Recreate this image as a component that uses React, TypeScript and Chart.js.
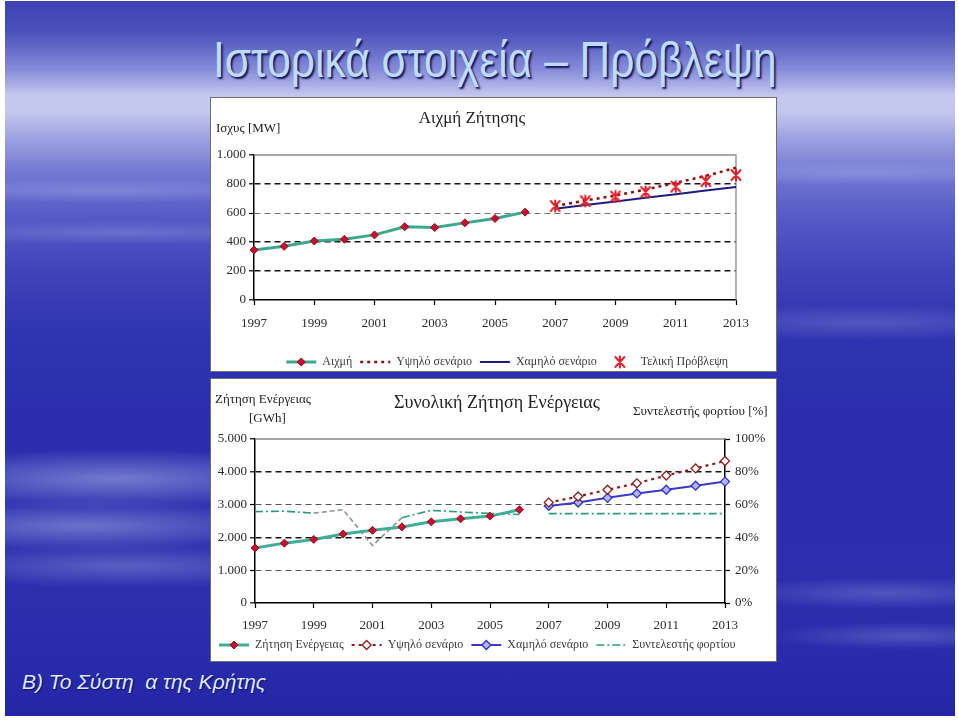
import React, { useEffect, useRef } from "react";
import { Chart, registerables } from "chart.js";

Chart.register(...registerables);

// ---------------- data ----------------
const YEARS = ["1997", "1998", "1999", "2000", "2001", "2002", "2003", "2004", "2005", "2006", "2007", "2008", "2009", "2010", "2011", "2012", "2013"];

// Peak demand [MW]
const PEAK_ACTUAL = [345, 370, 407, 419, 449, 505, 500, 532, 562, 606, null, null, null, null, null, null, null];
const PEAK_HIGH = [null, null, null, null, null, null, null, null, null, null, 648, 686, 720, 762, 808, 856, 912];
const PEAK_LOW = [null, null, null, null, null, null, null, null, null, null, 630, 655, 680, 705, 730, 755, 780];
const PEAK_FINAL = [null, null, null, null, null, null, null, null, null, null, 648, 682, 714, 745, 782, 820, 862];

// Total energy demand [GWh]
const ENERGY_ACTUAL = [1680, 1825, 1938, 2103, 2216, 2320, 2474, 2567, 2649, 2845, null, null, null, null, null, null, null];
const ENERGY_HIGH = [null, null, null, null, null, null, null, null, null, null, 3062, 3247, 3454, 3649, 3887, 4103, 4330];
const ENERGY_LOW = [null, null, null, null, null, null, null, null, null, null, 2959, 3062, 3206, 3340, 3454, 3577, 3701];
// Load factor [%]
const LOAD_FACTOR = [55.7, 56.0, 54.8, 56.9, 35.0, 52.0, 56.5, 55.5, 54.6, 54.0, 54.5, 54.5, 54.5, 54.5, 54.5, 54.5, 54.5];

const PEAK_LABELS = ["Αιχμή", "Υψηλό σενάριο", "Χαμηλό σενάριο", "Τελική Πρόβλεψη"];
const ENERGY_LABELS = ["Ζήτηση Ενέργειας", "Υψηλό σενάριο", "Χαμηλό σενάριο", "Συντελεστής φορτίου"];

// ---------------- helpers ----------------
const SERIF = "'Liberation Serif', 'Times New Roman', serif";
const fmt = (v: number) => {
  const s = String(Math.round(v));
  return s.length > 3 ? s.slice(0, -3) + "." + s.slice(-3) : s;
};
const TRANSPARENT = "rgba(0,0,0,0)";

function makeStar(): HTMLCanvasElement {
  const c = document.createElement("canvas");
  c.width = 14;
  c.height = 14;
  const g = c.getContext("2d")!;
  g.strokeStyle = "#e3212b";
  g.lineWidth = 2;
  g.lineCap = "round";
  g.beginPath();
  g.moveTo(2.5, 2); g.lineTo(11.5, 12);
  g.moveTo(11.5, 2); g.lineTo(2.5, 12);
  g.moveTo(7, 1.5); g.lineTo(7, 12.5);
  g.stroke();
  return c;
}

const framePlugin = {
  id: "frame",
  beforeDatasetsDraw(chart: any, _args: any, opts: any) {
    const { ctx, chartArea } = chart;
    ctx.save();
    ctx.strokeStyle = "#8a8a8a";
    ctx.lineWidth = 1.3;
    ctx.beginPath();
    ctx.moveTo(chartArea.left, chartArea.top);
    ctx.lineTo(chartArea.right, chartArea.top);
    if (opts && opts.right) ctx.lineTo(chartArea.right, chartArea.bottom);
    ctx.stroke();
    ctx.restore();
  },
};

const legendSamplesPlugin = {
  id: "legendSamples",
  afterDraw(chart: any) {
    const lg = chart.legend;
    if (!lg || !lg.legendHitBoxes) return;
    const ctx = chart.ctx;
    const bw = lg.options.labels.boxWidth;
    lg.legendItems.forEach((item: any, i: number) => {
      const hb = lg.legendHitBoxes[i];
      const ds = chart.data.datasets[item.datasetIndex];
      const cy = hb.top + hb.height / 2;
      const x0 = hb.left;
      const x1 = hb.left + bw;
      const cx = (x0 + x1) / 2;
      ctx.save();
      if (ds.showLine !== false) {
        ctx.strokeStyle = ds.borderColor;
        ctx.lineWidth = ds.borderWidth;
        ctx.setLineDash(ds.borderDash || []);
        ctx.beginPath();
        ctx.moveTo(x0, cy);
        ctx.lineTo(x1, cy);
        ctx.stroke();
      }
      ctx.setLineDash([]);
      const ps = ds.pointStyle;
      if (ps && typeof ps !== "string") {
        ctx.drawImage(ps, cx - ps.width / 2, cy - ps.height / 2);
      } else if (ps === "rectRot" && ds.pointRadius > 0) {
        const r = ds.pointRadius;
        ctx.beginPath();
        ctx.moveTo(cx, cy - r);
        ctx.lineTo(cx + r, cy);
        ctx.lineTo(cx, cy + r);
        ctx.lineTo(cx - r, cy);
        ctx.closePath();
        ctx.fillStyle = ds.pointBackgroundColor;
        ctx.fill();
        ctx.lineWidth = ds.pointBorderWidth || 1;
        ctx.strokeStyle = ds.pointBorderColor;
        ctx.stroke();
      }
      ctx.restore();
    });
  },
};

const legendLabels = (align: string) => ({
  position: "bottom",
  align,
  labels: {
    boxWidth: 30,
    padding: 8,
    color: "#3a3a3a",
    font: { family: SERIF, size: 12 },
    sort: (a: any, b: any) => a.datasetIndex - b.datasetIndex,
    generateLabels: (chart: any) =>
      (Chart.defaults.plugins.legend.labels.generateLabels as any)(chart).map((l: any) => ({
        ...l,
        fillStyle: TRANSPARENT,
        strokeStyle: TRANSPARENT,
        lineWidth: 0,
      })),
  },
});

const tickFont = { family: SERIF, size: 13 };

function xScale(height: number, padding: number) {
  return {
    grid: {
      drawOnChartArea: false,
      drawTicks: true,
      tickLength: 5,
      tickWidth: 1.2,
      tickColor: (c: any) => (c.index % 2 === 0 ? "#000" : TRANSPARENT),
    },
    border: { color: "#000", width: 1.5 },
    ticks: {
      autoSkip: false,
      maxRotation: 0,
      padding,
      color: "#2a2a2a",
      font: tickFont,
      callback: (_v: any, i: number) => (i % 2 === 0 ? YEARS[i] : ""),
    },
    afterFit: (s: any) => {
      s.height = height;
    },
  };
}

function peakConfig(): any {
  const star = makeStar();
  return {
    type: "line",
    data: {
      labels: YEARS,
      datasets: [
        {
          label: PEAK_LABELS[0],
          data: PEAK_ACTUAL,
          borderColor: "#3aa98f",
          borderWidth: 3,
          pointStyle: "rectRot",
          pointRadius: 4,
          pointBackgroundColor: "#c8102e",
          pointBorderColor: "#9a0a1e",
          pointBorderWidth: 1,
          order: 2,
        },
        {
          label: PEAK_LABELS[1],
          data: PEAK_HIGH,
          borderColor: "#8a1010",
          borderWidth: 2.5,
          borderDash: [3, 4],
          pointRadius: 0,
          order: 3,
        },
        {
          label: PEAK_LABELS[2],
          data: PEAK_LOW,
          borderColor: "#1d1d80",
          borderWidth: 2,
          pointRadius: 0,
          order: 4,
        },
        {
          label: PEAK_LABELS[3],
          data: PEAK_FINAL,
          showLine: false,
          pointStyle: star,
          pointRadius: 7,
          borderColor: "#e3212b",
          order: 1,
        },
      ],
    },
    options: {
      responsive: false,
      maintainAspectRatio: false,
      animation: false,
      layout: { padding: { top: 57, right: 40, left: 0, bottom: 0 } },
      plugins: {
        legend: legendLabels("end"),
        tooltip: { enabled: false },
        frame: { right: true },
      },
      scales: {
        x: xScale(48, 11),
        y: {
          min: 0,
          max: 1000,
          ticks: { stepSize: 200, padding: 3, color: "#2a2a2a", font: tickFont, callback: (v: any) => fmt(v) },
          grid: {
            color: (c: any) => {
              const v = c.tick && c.tick.value;
              if (v === 0 || v === 1000) return TRANSPARENT;
              if (v === 600) return "#707070";
              return "#151515";
            },
            lineWidth: (c: any) => (c.tick && c.tick.value === 600 ? 1 : 1.6),
            tickLength: 5,
            tickWidth: 1.2,
            tickColor: "#000",
          },
          border: { color: "#000", width: 1.5, dash: [6, 4] },
          afterFit: (s: any) => {
            s.width = 43;
          },
        },
      },
    },
    plugins: [framePlugin, legendSamplesPlugin],
  };
}

function energyConfig(): any {
  return {
    type: "line",
    data: {
      labels: YEARS,
      datasets: [
        {
          label: ENERGY_LABELS[0],
          data: ENERGY_ACTUAL,
          borderColor: "#3fae98",
          borderWidth: 3,
          pointStyle: "rectRot",
          pointRadius: 4,
          pointBackgroundColor: "#c8102e",
          pointBorderColor: "#9a0a1e",
          pointBorderWidth: 1,
          order: 1,
        },
        {
          label: ENERGY_LABELS[1],
          data: ENERGY_HIGH,
          borderColor: "#8a1a1a",
          borderWidth: 2.2,
          borderDash: [3, 4],
          pointStyle: "rectRot",
          pointRadius: 4.5,
          pointBackgroundColor: "#ffffff",
          pointBorderColor: "#8a2020",
          pointBorderWidth: 1.3,
          order: 2,
        },
        {
          label: ENERGY_LABELS[2],
          data: ENERGY_LOW,
          borderColor: "#3a3ac4",
          borderWidth: 2,
          pointStyle: "rectRot",
          pointRadius: 4.5,
          pointBackgroundColor: "#b4b4f2",
          pointBorderColor: "#3030c0",
          pointBorderWidth: 1.3,
          order: 3,
        },
        {
          label: ENERGY_LABELS[3],
          data: LOAD_FACTOR,
          yAxisID: "y1",
          borderColor: "#2a9a84",
          borderWidth: 1.6,
          borderDash: [8, 3, 2, 3],
          pointRadius: 0,
          order: 4,
          segment: {
            borderColor: (c: any) => {
              if (c.p0DataIndex === 9) return TRANSPARENT;
              if (c.p0DataIndex >= 2 && c.p0DataIndex <= 4) return "#8a9696";
              return undefined;
            },
            borderDash: (c: any) => (c.p0DataIndex >= 2 && c.p0DataIndex <= 4 ? [5, 3] : undefined),
          },
        },
      ],
    },
    options: {
      responsive: false,
      maintainAspectRatio: false,
      animation: false,
      layout: { padding: { top: 60, right: 0, left: 0, bottom: 0 } },
      plugins: {
        legend: legendLabels("start"),
        tooltip: { enabled: false },
        frame: { right: false },
      },
      scales: {
        x: xScale(28, 10),
        y: {
          position: "left",
          min: 0,
          max: 5000,
          ticks: { stepSize: 1000, padding: 3, color: "#2a2a2a", font: tickFont, callback: (v: any) => fmt(v) },
          grid: {
            color: (c: any) => {
              const v = c.tick && c.tick.value;
              if (v === 0 || v === 5000) return TRANSPARENT;
              if (v === 1000 || v === 3000) return "#555555";
              return "#151515";
            },
            lineWidth: (c: any) => (c.tick && (c.tick.value === 1000 || c.tick.value === 3000) ? 1 : 1.6),
            tickLength: 5,
            tickWidth: 1.2,
            tickColor: "#000",
          },
          border: { color: "#000", width: 1.5, dash: [6, 4] },
          afterFit: (s: any) => {
            s.width = 44;
          },
        },
        y1: {
          position: "right",
          min: 0,
          max: 100,
          ticks: { stepSize: 20, padding: 5, color: "#2a2a2a", font: tickFont, callback: (v: any) => v + "%" },
          grid: { drawOnChartArea: false, tickLength: 5, tickWidth: 1.2, tickColor: "#000" },
          border: { color: "#000", width: 1.5 },
          afterFit: (s: any) => {
            s.width = 51;
          },
        },
      },
    },
    plugins: [framePlugin, legendSamplesPlugin],
  };
}

function ChartCanvas({ makeConfig, width, height }: { makeConfig: () => any; width: number; height: number }) {
  const ref = useRef<HTMLCanvasElement | null>(null);
  useEffect(() => {
    if (!ref.current) return;
    const chart = new Chart(ref.current, makeConfig());
    return () => chart.destroy();
  }, []);
  return (
    <canvas
      ref={ref}
      width={width}
      height={height}
      style={{ position: "absolute", left: 0, top: 0, width, height }}
    />
  );
}

const BG = [
  "radial-gradient(ellipse 240px 30px at 110px 478px, rgba(190,196,240,0.5), rgba(190,196,240,0))",
  "radial-gradient(ellipse 230px 26px at 80px 525px, rgba(190,196,240,0.45), rgba(190,196,240,0))",
  "radial-gradient(ellipse 220px 22px at 120px 565px, rgba(180,186,236,0.35), rgba(180,186,236,0))",
  "radial-gradient(ellipse 200px 18px at 860px 322px, rgba(180,186,236,0.25), rgba(180,186,236,0))",
  "radial-gradient(ellipse 160px 16px at 880px 592px, rgba(180,186,236,0.28), rgba(180,186,236,0))",
  "radial-gradient(ellipse 140px 14px at 900px 635px, rgba(180,186,236,0.28), rgba(180,186,236,0))",
  "radial-gradient(ellipse 240px 12px at 100px 190px, rgba(200,205,245,0.25), rgba(200,205,245,0))",
  "radial-gradient(ellipse 240px 12px at 120px 232px, rgba(200,205,245,0.22), rgba(200,205,245,0))",
  "radial-gradient(ellipse 220px 12px at 860px 172px, rgba(200,205,245,0.25), rgba(200,205,245,0))",
  "linear-gradient(to bottom, #3c42b4 0px, #4a50ba 30px, #858ad8 68px, #c6c8ee 95px, #c3c6ee 112px, #a0a4e2 135px, #7479d3 170px, #565bc8 215px, #3f44b9 270px, #2f34b1 330px, #2a2eae 420px, #2b2fae 600px, #2426a6 715px)",
].join(", ");

export default function App() {
  return (
    <div style={{ position: "absolute", left: 0, top: 0, width: 959, height: 721, background: "#ffffff", overflow: "hidden" }}>
      <div style={{ position: "absolute", left: 5, top: 1, width: 950, height: 715, background: BG }} />

      <div
        style={{
          position: "absolute",
          left: 213,
          top: 35,
          fontFamily: "'Liberation Sans', Arial, sans-serif",
          fontSize: 50,
          lineHeight: "50px",
          color: "#bcdcf8",
          whiteSpace: "nowrap",
          transform: "scaleX(0.85)",
          transformOrigin: "0 0",
          textShadow: "2px 2px 2px #14145a",
        }}
      >
        Ιστορικά στοιχεία – Πρόβλεψη
      </div>

      <div
        style={{
          position: "absolute",
          left: 22,
          top: 671,
          fontFamily: "'Liberation Sans', Arial, sans-serif",
          fontStyle: "italic",
          fontSize: 21,
          lineHeight: "21px",
          color: "#dfeaff",
          whiteSpace: "pre",
          textShadow: "1px 1px 1px #10106a",
        }}
      >
        {"Β) Το Σύστη  α της Κρήτης"}
      </div>

      {/* Peak demand chart */}
      <div
        style={{
          position: "absolute",
          left: 210,
          top: 97,
          width: 567,
          height: 275,
          boxSizing: "border-box",
          border: "1px solid #6e6e6e",
          background: "#ffffff",
        }}
      >
        <ChartCanvas makeConfig={peakConfig} width={565} height={280} />
        <div style={{ position: "absolute", left: 261, top: 10, transform: "translateX(-50%)", fontFamily: SERIF, fontSize: 17, lineHeight: "20px", color: "#222", whiteSpace: "nowrap" }}>
          Αιχμή Ζήτησης
        </div>
        <div style={{ position: "absolute", left: 5, top: 22, fontFamily: SERIF, fontSize: 13, lineHeight: "16px", color: "#222", whiteSpace: "nowrap" }}>
          Ισχυς [MW]
        </div>
      </div>

      {/* Energy demand chart */}
      <div
        style={{
          position: "absolute",
          left: 210,
          top: 378,
          width: 567,
          height: 284,
          boxSizing: "border-box",
          border: "1px solid #6e6e6e",
          background: "#ffffff",
          overflow: "hidden",
        }}
      >
        <ChartCanvas makeConfig={energyConfig} width={565} height={282} />
        <div style={{ position: "absolute", left: 286, top: 13, transform: "translateX(-50%)", fontFamily: SERIF, fontSize: 18, lineHeight: "20px", color: "#222", whiteSpace: "nowrap" }}>
          Συνολική Ζήτηση Ενέργειας
        </div>
        <div style={{ position: "absolute", left: 4, top: 12, fontFamily: SERIF, fontSize: 13, lineHeight: "16px", color: "#222", whiteSpace: "nowrap" }}>
          Ζήτηση Ενέργειας
        </div>
        <div style={{ position: "absolute", left: 38, top: 31, fontFamily: SERIF, fontSize: 13, lineHeight: "16px", color: "#222", whiteSpace: "nowrap" }}>
          [GWh]
        </div>
        <div style={{ position: "absolute", left: 422, top: 24, fontFamily: SERIF, fontSize: 13, lineHeight: "16px", color: "#222", whiteSpace: "nowrap" }}>
          Συντελεστής φορτίου [%]
        </div>
      </div>
    </div>
  );
}
